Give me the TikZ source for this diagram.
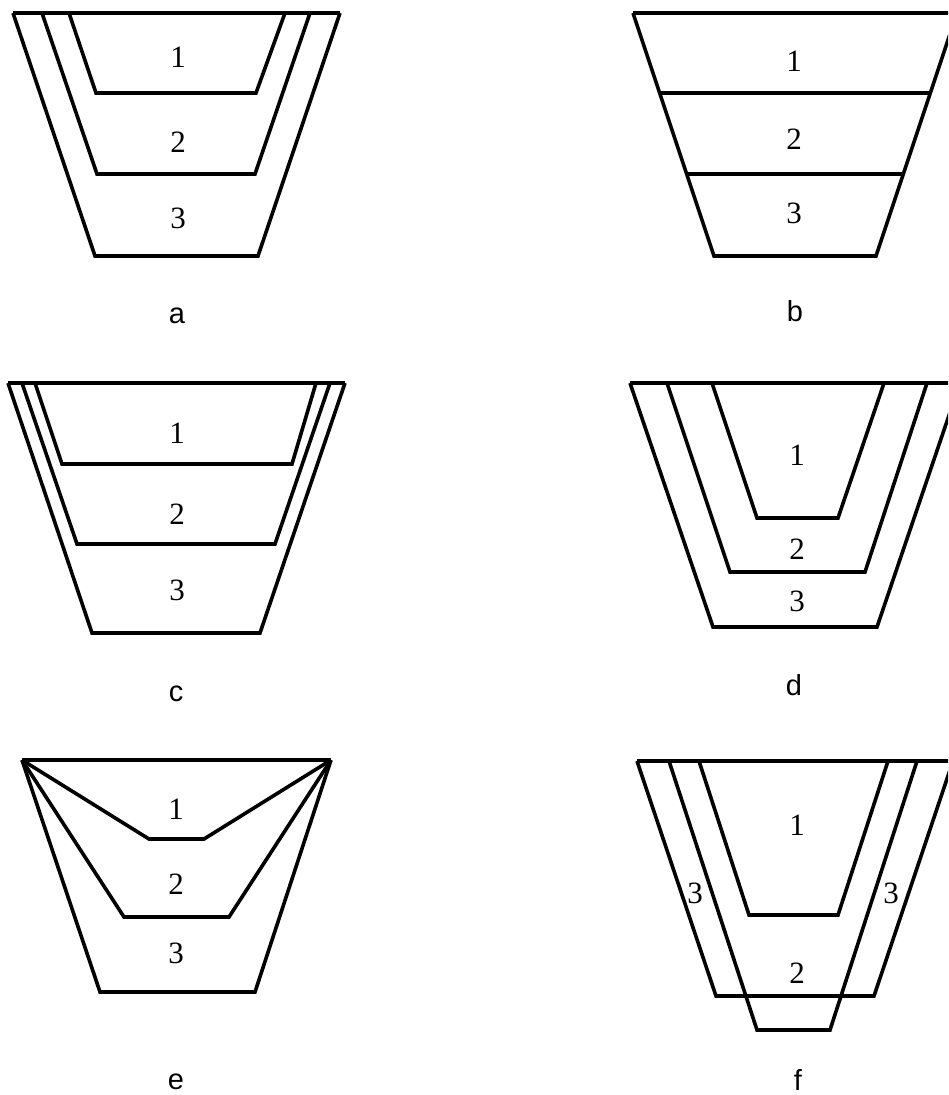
\documentclass[tikz,border=0pt]{standalone}
\usepackage{fontspec}
\newfontfamily\digfont{Liberation Serif}
\newfontfamily\labfont{Liberation Sans}
\begin{document}
\begin{tikzpicture}[x=1pt,y=-1pt,
  wall/.style={draw=black, line width=3.6pt, line join=miter},
  num/.style={font=\digfont\fontsize{31}{31}\selectfont, inner sep=0pt},
  lab/.style={font=\labfont\fontsize{29}{29}\selectfont, inner sep=0pt, anchor=base}]
\useasboundingbox (0,0) rectangle (948,1095);
\clip (0,0) rectangle (948,1095);

% ---------- panel a ----------
\draw[wall] (13,13) -- (340,13);
\draw[wall] (13,13) -- (95,256) -- (258,256) -- (340,13);
\draw[wall] (42,13) -- (97,174) -- (255,174) -- (310,13);
\draw[wall] (69,13) -- (96,93) -- (256,93) -- (285,13);
\node[num] (a1) at (178,57) {1};
\node[num] (a2) at (178,142) {2};
\node[num] (a3) at (178,218) {3};
\node[lab] (la) at (177,323) {a};

% ---------- panel b ----------
\draw[wall] (633,13) -- (957,13);
\draw[wall] (633,13) -- (714,256) -- (876,256) -- (957,13);
\draw[wall] (660,93) -- (930,93);
\draw[wall] (687,174) -- (903,174);
\node[num] (b1) at (794,61) {1};
\node[num] (b2) at (794,139) {2};
\node[num] (b3) at (794,213) {3};
\node[lab] (lb) at (795,321) {b};

% ---------- panel c ----------
\draw[wall] (8,383) -- (345,383);
\draw[wall] (8,383) -- (92,633) -- (260,633) -- (345,383);
\draw[wall] (22,383) -- (77,544) -- (275,544) -- (330,383);
\draw[wall] (35,383) -- (62,464) -- (292,464) -- (316,383);
\node[num] (c1) at (177,433) {1};
\node[num] (c2) at (177,514) {2};
\node[num] (c3) at (177,590) {3};
\node[lab] (lc) at (176,701) {c};

% ---------- panel d ----------
\draw[wall] (630,383) -- (960,383);
\draw[wall] (630,383) -- (713,627) -- (877,627) -- (960,383);
\draw[wall] (667,383) -- (730,572) -- (865,572) -- (927,383);
\draw[wall] (712,383) -- (757,518) -- (838,518) -- (884,383);
\node[num] (d1) at (797,455) {1};
\node[num] (d2) at (797,549) {2};
\node[num] (d3) at (797,601) {3};
\node[lab] (ld) at (794,695) {d};

% ---------- panel e ----------
\draw[wall] (22,760) -- (331,760);
\draw[wall] (22,760) -- (100,992) -- (255,992) -- (331,760);
\draw[wall] (22,760) -- (124,917) -- (229,917) -- (331,760);
\draw[wall] (22,760) -- (149,839) -- (204,839) -- (331,760);
\node[num] (e1) at (176,809) {1};
\node[num] (e2) at (176,884) {2};
\node[num] (e3) at (176,953) {3};
\node[lab] (le) at (176,1089) {e};

% ---------- panel f ----------
\draw[wall] (637,761) -- (960,761);
\draw[wall] (637,761) -- (716,996) -- (874,996) -- (953,761);
\draw[wall] (669,761) -- (757,1030) -- (830,1030) -- (917,761);
\draw[wall] (699,761) -- (749,915) -- (838,915) -- (888,761);
\node[num] (f1) at (797,825) {1};
\node[num] (f2) at (797,973) {2};
\node[num] (f3l) at (695,893) {3};
\node[num] (f3r) at (891,893) {3};
\node[lab] (lf) at (798,1090) {f};
\end{tikzpicture}
\end{document}
